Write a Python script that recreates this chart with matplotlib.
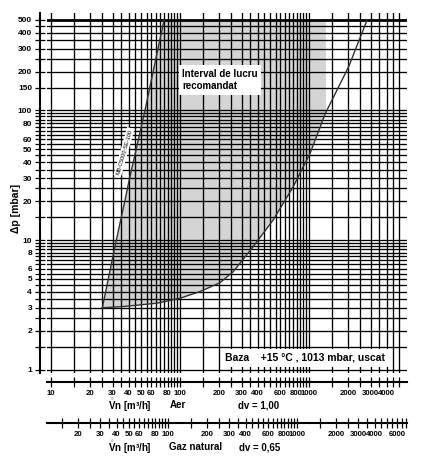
import numpy as np
import matplotlib.pyplot as plt
from matplotlib.ticker import FixedLocator, NullFormatter
from matplotlib.patches import Rectangle

plt.rcParams['font.family'] = ['Liberation Sans', 'DejaVu Sans']
plt.rcParams['font.weight'] = 'bold'
plt.rcParams['mathtext.fontset'] = 'custom'
plt.rcParams['mathtext.rm'] = 'Liberation Sans'
plt.rcParams['mathtext.bf'] = 'Liberation Sans:bold'

# left limit of the working range (air, m3/h -> mbar)
left_x = [25, 31.3, 37.5, 40.4, 53.6, 75.2]
left_y = [3.0, 8.88, 20.4, 29.1, 101, 500]

# right curve (air, m3/h -> mbar)
curve_x = [25, 36, 66, 100, 143, 204, 259, 370, 528, 755, 1020, 1340, 2030, 2820]
curve_y = [3.0, 3.06, 3.25, 3.55, 4.0, 4.68, 5.7, 8.9, 14.3, 25.8, 46.7, 95, 218, 500]

x_work_max = 1360   # shaded area ends here

x_labels = [10, 20, 30, 40, 50, 60, 80, 100, 200, 300, 400, 600, 800, 1000, 2000, 3000, 4000]
gas_labels = [20, 30, 40, 50, 60, 80, 100, 200, 300, 400, 600, 800, 1000, 2000, 3000, 4000, 6000]
y_labels = [1, 2, 3, 4, 5, 6, 8, 10, 20, 30, 40, 50, 60, 80, 100, 150, 200, 300, 400, 500]

dv_air = 1.00
dv_gas = 0.65

W, H = 425, 463
fig = plt.figure(figsize=(W / 100, H / 100), dpi=100)
ax = fig.add_axes([47 / W, 1 - 373 / H, 360 / W, 360 / H])
ax.set_xscale('log')
ax.set_yscale('log')
ax.set_xlim(9.31, 5750)
ax.set_ylim(0.94, 566)

# grid lines: 1, 1.5, 2 ... 9.5 in every decade
steps = np.arange(1, 10, 0.5)
grid_vals = np.concatenate([steps * 10 ** k for k in range(0, 4)] + [[10000]])
xgrid = grid_vals[(grid_vals >= 10) & (grid_vals <= 5000)]
ygrid = grid_vals[(grid_vals >= 1) & (grid_vals <= 500)]

# shaded working range
poly = ax.fill(left_x + curve_x[::-1], left_y + curve_y[::-1], color='#d4d4d4', lw=0, zorder=1)[0]
clip = Rectangle((1, 0.1), x_work_max - 1, 1000, transform=ax.transData)
poly.set_clip_path(clip)

ax.plot(left_x, left_y, color='#333333', lw=1.0, zorder=2)
ax.plot(curve_x, curve_y, color='#333333', lw=1.0, zorder=2)

for v in xgrid:
    ax.axvline(v, color='black', lw=0.95, zorder=1.5)
for v in ygrid:
    ax.axhline(v, color='black', lw=2.0 if v == 500 else 0.95, zorder=1.5)

ax.xaxis.set_major_locator(FixedLocator(x_labels))
ax.set_xticklabels([str(v) for v in x_labels])
ax.xaxis.set_minor_locator(FixedLocator(xgrid))
ax.xaxis.set_minor_formatter(NullFormatter())
ax.yaxis.set_major_locator(FixedLocator(y_labels))
ax.set_yticklabels([str(v) for v in y_labels])
ax.yaxis.set_minor_locator(FixedLocator(ygrid))
ax.yaxis.set_minor_formatter(NullFormatter())

ax.tick_params(which='both', direction='inout', length=6.5, width=0.9, labelsize=5.6, pad=2.5)
ax.tick_params(axis='y', labelsize=6)
for s in ['top', 'right']:
    ax.spines[s].set_visible(False)
ax.spines['left'].set_position(('outward', 5))
ax.spines['bottom'].set_position(('outward', 6.5))
ax.spines['left'].set_linewidth(1.5)
ax.spines['bottom'].set_linewidth(1.5)

# natural gas scale
k = np.sqrt(dv_air / dv_gas)
sec = ax.secondary_xaxis(-0.139, functions=(lambda x: x * k, lambda x: x / k))
sec.set_xticks(gas_labels, [str(v) for v in gas_labels])
sec.xaxis.set_minor_locator(FixedLocator(grid_vals[grid_vals >= 15]))
sec.xaxis.set_minor_formatter(NullFormatter())
sec.tick_params(which='both', direction='inout', length=6.5, width=0.9, labelsize=5.6, pad=2.5)
sec.spines['bottom'].set_linewidth(1.5)

def ftext(px, py, s, **kw):
    fig.text(px / W, 1 - py / H, s, ha='center', va='center', **kw)

vn = r'$\mathring{\mathbf{V}}$n [m³/h]'
ftext(16, 208, 'Δp [mbar]', rotation=90, fontsize=7.5)
ftext(130, 405.5, vn, fontsize=7)
ftext(178, 405.5, 'Aer', fontsize=7)
ftext(259, 405.5, 'dv = 1,00', fontsize=7)
ftext(130, 447, vn, fontsize=7)
ftext(196, 447.5, 'Gaz natural', fontsize=7)
ftext(260, 447.5, 'dv = 0,65', fontsize=7)

ax.text(0.375, 0.814, 'Interval de lucru\nrecomandat', transform=ax.transAxes,
        ha='left', va='center', fontsize=7, linespacing=1.3, zorder=3,
        bbox=dict(facecolor='white', edgecolor='none', pad=2.5))
ax.text(0.717, 0.042, 'Baza    +15 °C , 1013 mbar, uscat', transform=ax.transAxes,
        ha='center', va='center', fontsize=7.5, zorder=3,
        bbox=dict(facecolor='white', edgecolor='none', pad=3))
ax.text(0.214, 0.614, 'MB-C5000-SE-100', transform=ax.transAxes, rotation=74,
        ha='center', va='center', fontsize=4, fontweight='normal', zorder=3,
        bbox=dict(facecolor='white', edgecolor='none', pad=1))

fig.savefig('out.png', dpi=100)
